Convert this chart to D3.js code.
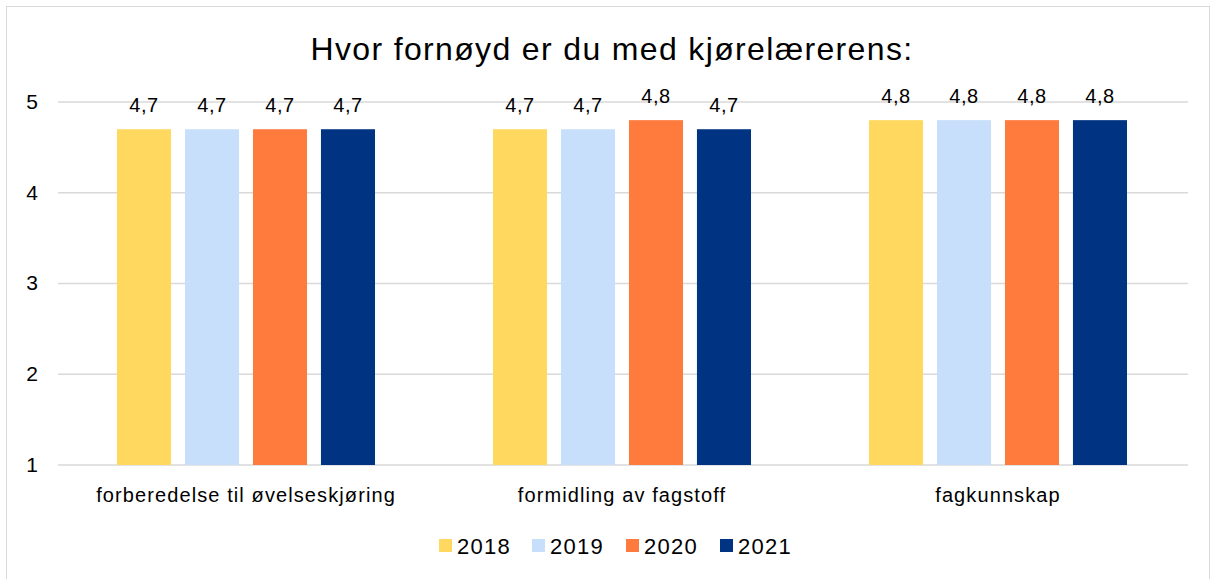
<!DOCTYPE html>
<html>
<head>
<meta charset="utf-8">
<script src="https://cdn.jsdelivr.net/npm/d3@7"></script>
<style>
  body { margin: 0; background: #fff; }
  text { font-family: "Liberation Sans", Arial, sans-serif; fill: #000; }
</style>
</head>
<body>
<svg id="chart" width="1213" height="579"></svg>
<script>
var categories = ["forberedelse til øvelseskjøring", "formidling av fagstoff", "fagkunnskap"];
var years = ["2018", "2019", "2020", "2021"];
var colors = ["#FFD95F", "#C7DFFB", "#FF7A3D", "#003381"];
var values2018 = [4.7, 4.7, 4.8];
var values2019 = [4.7, 4.7, 4.8];
var values2020 = [4.7, 4.8, 4.8];
var values2021 = [4.7, 4.7, 4.8];
var yTicks = [1, 2, 3, 4, 5];
var title = "Hvor fornøyd er du med kjørelærerens:";

var series = [values2018, values2019, values2020, values2021];

var svg = d3.select("#chart"),
  width = +svg.attr("width"),
  height = +svg.attr("height");

// outer frame
svg.append("rect")
  .attr("x", 6.5).attr("y", 6.5)
  .attr("width", width - 10).attr("height", height)
  .attr("fill", "none")
  .attr("stroke", "#D9D9D9")
  .attr("stroke-width", 1);

var x0 = d3.scaleBand().domain(categories).range([58, 1186]);
var x1 = d3.scaleBand().domain(years).range([59, 376 - 59]).paddingInner(0.205);
var y = d3.scaleLinear().domain([1, 5]).range([465, 102]);

svg.append("text")
  .attr("x", 612).attr("y", 60)
  .attr("text-anchor", "middle")
  .style("font-size", "32px")
  .style("letter-spacing", "1.35px")
  .text(title);

// gridlines
svg.append("g").selectAll("line").data(yTicks).enter().append("line")
  .attr("x1", 58).attr("x2", 1188)
  .attr("y1", function(d) { return y(d); })
  .attr("y2", function(d) { return y(d); })
  .attr("stroke", "#D9D9D9")
  .attr("stroke-width", 1.5);

var yAxis = svg.append("g")
  .attr("transform", "translate(38,0)")
  .call(d3.axisLeft(y).tickValues(yTicks).tickSize(0).tickPadding(0).tickFormat(d3.format("d")));
yAxis.select(".domain").remove();
yAxis.selectAll("text").style("font-size", "21px").attr("x", 0).attr("dy", "0.3em");

var groups = svg.append("g").selectAll("g").data(categories).enter().append("g")
  .attr("transform", function(d) { return "translate(" + x0(d) + ",0)"; });

groups.selectAll("rect").data(function(c, i) {
  return years.map(function(yr, j) { return { year: yr, value: series[j][i], color: colors[j] }; });
}).enter().append("rect")
  .attr("x", function(d) { return x1(d.year); })
  .attr("width", x1.bandwidth())
  .attr("y", function(d) { return y(d.value); })
  .attr("height", function(d) { return y(1) - y(d.value); })
  .attr("fill", function(d) { return d.color; });

groups.selectAll("text.val").data(function(c, i) {
  return years.map(function(yr, j) { return { year: yr, value: series[j][i] }; });
}).enter().append("text")
  .attr("class", "val")
  .attr("x", function(d) { return x1(d.year) + x1.bandwidth() / 2; })
  .attr("y", function(d) { return y(d.value) - 17; })
  .attr("text-anchor", "middle")
  .style("font-size", "20px")
  .style("letter-spacing", "0.5px")
  .text(function(d) { return d.value.toFixed(1).replace(".", ","); });

var xAxis = svg.append("g")
  .attr("transform", "translate(0,465)")
  .call(d3.axisBottom(x0).tickSize(0).tickPadding(0));
xAxis.select(".domain").remove();
xAxis.selectAll("text").style("font-size", "20px").style("letter-spacing", "1.1px").attr("y", 37).attr("dy", 0);

// legend
var legendX = [439, 532, 626, 720];
var legend = svg.append("g").selectAll("g").data(years).enter().append("g")
  .attr("transform", function(d, i) { return "translate(" + legendX[i] + ",539)"; });
legend.append("rect")
  .attr("width", 13).attr("height", 13)
  .attr("fill", function(d, i) { return colors[i]; });
legend.append("text")
  .attr("x", 18).attr("y", 15)
  .style("font-size", "22px")
  .style("letter-spacing", "1.3px")
  .text(function(d) { return d; });
</script>
</body>
</html>
